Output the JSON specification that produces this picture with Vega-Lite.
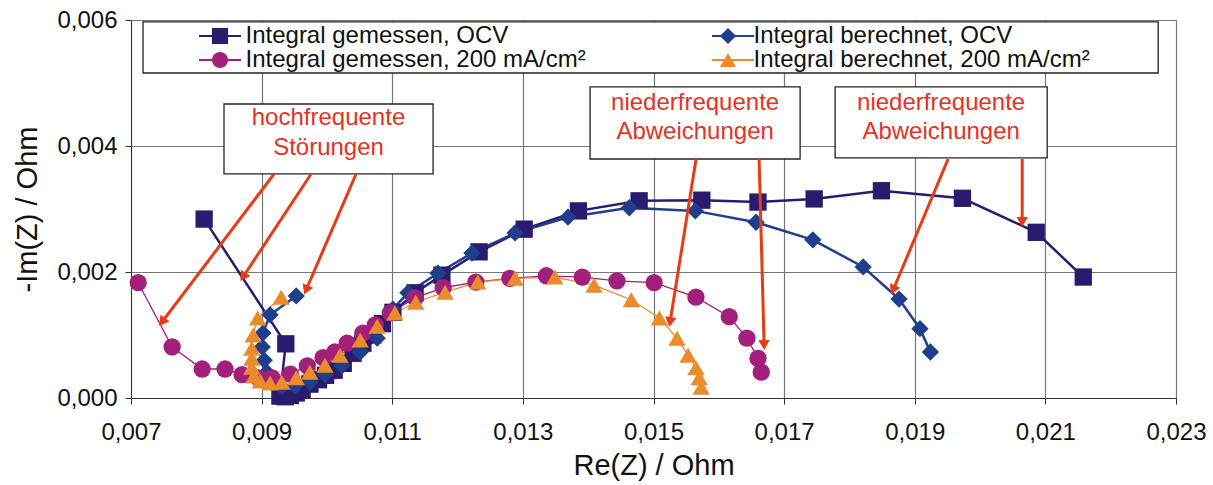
{
  "$schema": "https://vega.github.io/schema/vega-lite/v6.json",
  "width": 1045,
  "height": 378,
  "autosize": {"type": "none"},
  "padding": {"left": 131, "top": 20, "right": 37, "bottom": 87},
  "background": "white",
  "config": {
    "font": "Liberation Sans",
    "view": {"stroke": "#999", "strokeWidth": 1},
    "axis": {
      "labelFontSize": 24, "titleFontSize": 29, "titleFontWeight": "normal",
      "labelColor": "#111", "titleColor": "#111",
      "gridColor": "#777", "gridWidth": 1.2,
      "domainColor": "#333", "tickColor": "#333", "tickSize": 6
    }
  },
  "datasets": {
    "nyquist": [
      {"series": "Integral gemessen, OCV", "i": 1, "x": 0.00812, "y": 0.00284},
      {"series": "Integral gemessen, OCV", "i": 2, "x": 0.00937, "y": 0.00086},
      {"series": "Integral gemessen, OCV", "i": 3, "x": 0.00928, "y": 0.00003},
      {"series": "Integral gemessen, OCV", "i": 4, "x": 0.00936, "y": 0.00002},
      {"series": "Integral gemessen, OCV", "i": 5, "x": 0.00944, "y": 0.00004},
      {"series": "Integral gemessen, OCV", "i": 6, "x": 0.00953, "y": 0.00008},
      {"series": "Integral gemessen, OCV", "i": 7, "x": 0.00962, "y": 0.00013},
      {"series": "Integral gemessen, OCV", "i": 8, "x": 0.00974, "y": 0.00022},
      {"series": "Integral gemessen, OCV", "i": 9, "x": 0.00987, "y": 0.00029},
      {"series": "Integral gemessen, OCV", "i": 10, "x": 0.00998, "y": 0.00036},
      {"series": "Integral gemessen, OCV", "i": 11, "x": 0.01011, "y": 0.00044},
      {"series": "Integral gemessen, OCV", "i": 12, "x": 0.01025, "y": 0.00055},
      {"series": "Integral gemessen, OCV", "i": 13, "x": 0.0104, "y": 0.00071},
      {"series": "Integral gemessen, OCV", "i": 14, "x": 0.01055, "y": 0.00087},
      {"series": "Integral gemessen, OCV", "i": 15, "x": 0.0107, "y": 0.001},
      {"series": "Integral gemessen, OCV", "i": 16, "x": 0.01085, "y": 0.00118},
      {"series": "Integral gemessen, OCV", "i": 17, "x": 0.01101, "y": 0.00136},
      {"series": "Integral gemessen, OCV", "i": 18, "x": 0.01135, "y": 0.00167},
      {"series": "Integral gemessen, OCV", "i": 19, "x": 0.01176, "y": 0.00195},
      {"series": "Integral gemessen, OCV", "i": 20, "x": 0.01233, "y": 0.00232},
      {"series": "Integral gemessen, OCV", "i": 21, "x": 0.01302, "y": 0.00268},
      {"series": "Integral gemessen, OCV", "i": 22, "x": 0.01385, "y": 0.00297},
      {"series": "Integral gemessen, OCV", "i": 23, "x": 0.01478, "y": 0.00313},
      {"series": "Integral gemessen, OCV", "i": 24, "x": 0.01574, "y": 0.00314},
      {"series": "Integral gemessen, OCV", "i": 25, "x": 0.0166, "y": 0.00311},
      {"series": "Integral gemessen, OCV", "i": 26, "x": 0.01746, "y": 0.00316},
      {"series": "Integral gemessen, OCV", "i": 27, "x": 0.01849, "y": 0.00329},
      {"series": "Integral gemessen, OCV", "i": 28, "x": 0.01973, "y": 0.00317},
      {"series": "Integral gemessen, OCV", "i": 29, "x": 0.02086, "y": 0.00263},
      {"series": "Integral gemessen, OCV", "i": 30, "x": 0.02158, "y": 0.00192},

      {"series": "Integral berechnet, OCV", "i": 1, "x": 0.00953, "y": 0.00162},
      {"series": "Integral berechnet, OCV", "i": 2, "x": 0.00913, "y": 0.00132},
      {"series": "Integral berechnet, OCV", "i": 3, "x": 0.00902, "y": 0.00103},
      {"series": "Integral berechnet, OCV", "i": 4, "x": 0.00901, "y": 0.00081},
      {"series": "Integral berechnet, OCV", "i": 5, "x": 0.00904, "y": 0.0006},
      {"series": "Integral berechnet, OCV", "i": 6, "x": 0.00908, "y": 0.00041},
      {"series": "Integral berechnet, OCV", "i": 7, "x": 0.00916, "y": 0.00025},
      {"series": "Integral berechnet, OCV", "i": 8, "x": 0.00931, "y": 0.00018},
      {"series": "Integral berechnet, OCV", "i": 9, "x": 0.00951, "y": 0.00019},
      {"series": "Integral berechnet, OCV", "i": 10, "x": 0.00974, "y": 0.00025},
      {"series": "Integral berechnet, OCV", "i": 11, "x": 0.00997, "y": 0.00037},
      {"series": "Integral berechnet, OCV", "i": 12, "x": 0.01023, "y": 0.00051},
      {"series": "Integral berechnet, OCV", "i": 13, "x": 0.01051, "y": 0.00073},
      {"series": "Integral berechnet, OCV", "i": 14, "x": 0.01077, "y": 0.00095},
      {"series": "Integral berechnet, OCV", "i": 15, "x": 0.01101, "y": 0.00141},
      {"series": "Integral berechnet, OCV", "i": 16, "x": 0.01124, "y": 0.00167},
      {"series": "Integral berechnet, OCV", "i": 17, "x": 0.0117, "y": 0.00198},
      {"series": "Integral berechnet, OCV", "i": 18, "x": 0.01222, "y": 0.0023},
      {"series": "Integral berechnet, OCV", "i": 19, "x": 0.01288, "y": 0.00262},
      {"series": "Integral berechnet, OCV", "i": 20, "x": 0.01369, "y": 0.00287},
      {"series": "Integral berechnet, OCV", "i": 21, "x": 0.01463, "y": 0.00302},
      {"series": "Integral berechnet, OCV", "i": 22, "x": 0.01564, "y": 0.00297},
      {"series": "Integral berechnet, OCV", "i": 23, "x": 0.01657, "y": 0.00279},
      {"series": "Integral berechnet, OCV", "i": 24, "x": 0.01744, "y": 0.00251},
      {"series": "Integral berechnet, OCV", "i": 25, "x": 0.01821, "y": 0.00208},
      {"series": "Integral berechnet, OCV", "i": 26, "x": 0.01876, "y": 0.00157},
      {"series": "Integral berechnet, OCV", "i": 27, "x": 0.01908, "y": 0.0011},
      {"series": "Integral berechnet, OCV", "i": 28, "x": 0.01924, "y": 0.00073},

      {"series": "Integral gemessen, 200 mA/cm²", "i": 1, "x": 0.00711, "y": 0.00183},
      {"series": "Integral gemessen, 200 mA/cm²", "i": 2, "x": 0.00763, "y": 0.00081},
      {"series": "Integral gemessen, 200 mA/cm²", "i": 3, "x": 0.00809, "y": 0.00046},
      {"series": "Integral gemessen, 200 mA/cm²", "i": 4, "x": 0.00844, "y": 0.00046},
      {"series": "Integral gemessen, 200 mA/cm²", "i": 5, "x": 0.0087, "y": 0.00037},
      {"series": "Integral gemessen, 200 mA/cm²", "i": 6, "x": 0.00895, "y": 0.00032},
      {"series": "Integral gemessen, 200 mA/cm²", "i": 7, "x": 0.00916, "y": 0.00032},
      {"series": "Integral gemessen, 200 mA/cm²", "i": 8, "x": 0.00944, "y": 0.00038},
      {"series": "Integral gemessen, 200 mA/cm²", "i": 9, "x": 0.0097, "y": 0.00051},
      {"series": "Integral gemessen, 200 mA/cm²", "i": 10, "x": 0.00994, "y": 0.00064},
      {"series": "Integral gemessen, 200 mA/cm²", "i": 11, "x": 0.01012, "y": 0.00073},
      {"series": "Integral gemessen, 200 mA/cm²", "i": 12, "x": 0.01031, "y": 0.00087},
      {"series": "Integral gemessen, 200 mA/cm²", "i": 13, "x": 0.01055, "y": 0.00103},
      {"series": "Integral gemessen, 200 mA/cm²", "i": 14, "x": 0.01074, "y": 0.00116},
      {"series": "Integral gemessen, 200 mA/cm²", "i": 15, "x": 0.01097, "y": 0.00135},
      {"series": "Integral gemessen, 200 mA/cm²", "i": 16, "x": 0.01135, "y": 0.00159},
      {"series": "Integral gemessen, 200 mA/cm²", "i": 17, "x": 0.01178, "y": 0.00175},
      {"series": "Integral gemessen, 200 mA/cm²", "i": 18, "x": 0.01228, "y": 0.00184},
      {"series": "Integral gemessen, 200 mA/cm²", "i": 19, "x": 0.0128, "y": 0.0019},
      {"series": "Integral gemessen, 200 mA/cm²", "i": 20, "x": 0.01336, "y": 0.00194},
      {"series": "Integral gemessen, 200 mA/cm²", "i": 21, "x": 0.01391, "y": 0.00192},
      {"series": "Integral gemessen, 200 mA/cm²", "i": 22, "x": 0.01444, "y": 0.00186},
      {"series": "Integral gemessen, 200 mA/cm²", "i": 23, "x": 0.01501, "y": 0.00183},
      {"series": "Integral gemessen, 200 mA/cm²", "i": 24, "x": 0.01565, "y": 0.0016},
      {"series": "Integral gemessen, 200 mA/cm²", "i": 25, "x": 0.01616, "y": 0.00129},
      {"series": "Integral gemessen, 200 mA/cm²", "i": 26, "x": 0.01643, "y": 0.00095},
      {"series": "Integral gemessen, 200 mA/cm²", "i": 27, "x": 0.0166, "y": 0.00063},
      {"series": "Integral gemessen, 200 mA/cm²", "i": 28, "x": 0.01665, "y": 0.00041},

      {"series": "Integral berechnet, 200 mA/cm²", "i": 1, "x": 0.0093, "y": 0.0016},
      {"series": "Integral berechnet, 200 mA/cm²", "i": 2, "x": 0.00894, "y": 0.00127},
      {"series": "Integral berechnet, 200 mA/cm²", "i": 3, "x": 0.00887, "y": 0.001},
      {"series": "Integral berechnet, 200 mA/cm²", "i": 4, "x": 0.00885, "y": 0.00079},
      {"series": "Integral berechnet, 200 mA/cm²", "i": 5, "x": 0.00885, "y": 0.00063},
      {"series": "Integral berechnet, 200 mA/cm²", "i": 6, "x": 0.00885, "y": 0.00049},
      {"series": "Integral berechnet, 200 mA/cm²", "i": 7, "x": 0.00888, "y": 0.00035},
      {"series": "Integral berechnet, 200 mA/cm²", "i": 8, "x": 0.00898, "y": 0.00027},
      {"series": "Integral berechnet, 200 mA/cm²", "i": 9, "x": 0.00913, "y": 0.00024},
      {"series": "Integral berechnet, 200 mA/cm²", "i": 10, "x": 0.00931, "y": 0.00025},
      {"series": "Integral berechnet, 200 mA/cm²", "i": 11, "x": 0.00953, "y": 0.00032},
      {"series": "Integral berechnet, 200 mA/cm²", "i": 12, "x": 0.00974, "y": 0.00041},
      {"series": "Integral berechnet, 200 mA/cm²", "i": 13, "x": 0.00997, "y": 0.00052},
      {"series": "Integral berechnet, 200 mA/cm²", "i": 14, "x": 0.0102, "y": 0.00068},
      {"series": "Integral berechnet, 200 mA/cm²", "i": 15, "x": 0.01051, "y": 0.00092},
      {"series": "Integral berechnet, 200 mA/cm²", "i": 16, "x": 0.01077, "y": 0.00114},
      {"series": "Integral berechnet, 200 mA/cm²", "i": 17, "x": 0.01104, "y": 0.00135},
      {"series": "Integral berechnet, 200 mA/cm²", "i": 18, "x": 0.01136, "y": 0.00152},
      {"series": "Integral berechnet, 200 mA/cm²", "i": 19, "x": 0.01181, "y": 0.00168},
      {"series": "Integral berechnet, 200 mA/cm²", "i": 20, "x": 0.01231, "y": 0.00184},
      {"series": "Integral berechnet, 200 mA/cm²", "i": 21, "x": 0.01288, "y": 0.0019},
      {"series": "Integral berechnet, 200 mA/cm²", "i": 22, "x": 0.01349, "y": 0.00192},
      {"series": "Integral berechnet, 200 mA/cm²", "i": 23, "x": 0.01409, "y": 0.00179},
      {"series": "Integral berechnet, 200 mA/cm²", "i": 24, "x": 0.01466, "y": 0.00156},
      {"series": "Integral berechnet, 200 mA/cm²", "i": 25, "x": 0.01509, "y": 0.00127},
      {"series": "Integral berechnet, 200 mA/cm²", "i": 26, "x": 0.01536, "y": 0.00095},
      {"series": "Integral berechnet, 200 mA/cm²", "i": 27, "x": 0.01553, "y": 0.00068},
      {"series": "Integral berechnet, 200 mA/cm²", "i": 28, "x": 0.01565, "y": 0.00048},
      {"series": "Integral berechnet, 200 mA/cm²", "i": 29, "x": 0.0157, "y": 0.00032},
      {"series": "Integral berechnet, 200 mA/cm²", "i": 30, "x": 0.01573, "y": 0.00017}
    ],
    "boxes": [
      {"x": 0.007184, "x2": 0.022727, "y": 0.00597, "y2": 0.005159},
      {"x": 0.008424, "x2": 0.011625, "y": 0.004667, "y2": 0.003556},
      {"x": 0.014029, "x2": 0.017245, "y": 0.004937, "y2": 0.003794},
      {"x": 0.017781, "x2": 0.021028, "y": 0.004937, "y2": 0.00381}
    ],
    "notes": [
      {"x": 0.010024, "y": 0.004444, "text": "hochfrequente"},
      {"x": 0.010024, "y": 0.003968, "text": "Störungen"},
      {"x": 0.015637, "y": 0.004683, "text": "niederfrequente"},
      {"x": 0.015637, "y": 0.004222, "text": "Abweichungen"},
      {"x": 0.019404, "y": 0.004683, "text": "niederfrequente"},
      {"x": 0.019404, "y": 0.004222, "text": "Abweichungen"}
    ],
    "arrows": [
      {"id": 1, "x": 0.00919, "y": 0.003556, "x2": 0.007475, "y2": 0.001206},
      {"id": 2, "x": 0.009757, "y": 0.003556, "x2": 0.008715, "y2": 0.001921},
      {"id": 3, "x": 0.010446, "y": 0.003556, "x2": 0.00968, "y2": 0.001714},
      {"id": 4, "x": 0.015652, "y": 0.003794, "x2": 0.015254, "y2": 0.001206},
      {"id": 5, "x": 0.016617, "y": 0.003794, "x2": 0.016694, "y2": 0.000841},
      {"id": 6, "x": 0.019511, "y": 0.003794, "x2": 0.018669, "y2": 0.001714},
      {"id": 7, "x": 0.020645, "y": 0.003794, "x2": 0.020645, "y2": 0.002794}
    ]
  },
  "encoding": {
    "x": {
      "field": "x", "type": "quantitative",
      "scale": {"domain": [0.007, 0.023], "nice": false, "zero": false},
      "axis": {
        "values": [0.007, 0.009, 0.011, 0.013, 0.015, 0.017, 0.019, 0.021, 0.023],
        "labelExpr": "replace(format(datum.value, '.3f'), '.', ',')",
        "title": "Re(Z) / Ohm", "labelPadding": 16, "titlePadding": 7, "labelFlush": false
      }
    },
    "y": {
      "field": "y", "type": "quantitative",
      "scale": {"domain": [0, 0.006], "nice": false, "zero": false},
      "axis": {
        "values": [0, 0.002, 0.004, 0.006],
        "labelExpr": "replace(format(datum.value, '.3f'), '.', ',')",
        "title": "-Im(Z) / Ohm", "labelPadding": 8, "titlePadding": 14, "labelFlush": false
      }
    }
  },
  "layer": [
    {
      "data": {"name": "boxes"},
      "mark": {"type": "rect", "fill": "white", "stroke": "#222", "strokeWidth": 1.3},
      "encoding": {"x2": {"field": "x2"}, "y2": {"field": "y2"}}
    },
    {
      "data": {"name": "nyquist"},
      "transform": [{"filter": "indexof(datum.series, 'OCV') >= 0"}],
      "mark": {"type": "line", "strokeWidth": 2.5},
      "encoding": {
        "order": {"field": "i", "type": "quantitative"},
        "stroke": {
          "field": "series", "type": "nominal",
          "scale": {"domain": ["Integral gemessen, OCV", "Integral gemessen, 200 mA/cm²", "Integral berechnet, OCV", "Integral berechnet, 200 mA/cm²"], "range": ["#2A1B6F", "#A3207A", "#1F3E8C", "#EB8C2C"]},
          "legend": {
            "orient": "none", "legendX": 65.5, "legendY": 4, "columns": 2, "direction": "horizontal", "title": null,
            "values": ["Integral gemessen, OCV", "Integral berechnet, OCV", "Integral gemessen, 200 mA/cm²", "Integral berechnet, 200 mA/cm²"],
            "symbolType": "M-2.6,0H2.6", "symbolSize": 260, "symbolStrokeWidth": 2, "symbolOffset": 11.5,
            "labelFontSize": 24, "labelOffset": 13.5, "labelOpacity": 0, "labelLimit": 0, "labelExpr": "' '",
            "columnPadding": 462, "rowPadding": -4, "padding": 0
          }
        }
      }
    },
    {
      "data": {"name": "nyquist"},
      "transform": [{"filter": "indexof(datum.series, 'OCV') < 0"}],
      "mark": {"type": "line", "strokeWidth": 1.3},
      "encoding": {
        "order": {"field": "i", "type": "quantitative"},
        "stroke": {
          "field": "series", "type": "nominal",
          "scale": {"domain": ["Integral gemessen, OCV", "Integral gemessen, 200 mA/cm²", "Integral berechnet, OCV", "Integral berechnet, 200 mA/cm²"], "range": ["#2A1B6F", "#A3207A", "#1F3E8C", "#EB8C2C"]},
          "legend": {
            "orient": "none", "legendX": 65.5, "legendY": 4, "columns": 2, "direction": "horizontal", "title": null,
            "values": ["Integral gemessen, OCV", "Integral berechnet, OCV", "Integral gemessen, 200 mA/cm²", "Integral berechnet, 200 mA/cm²"],
            "symbolType": "M-2.6,0H2.6", "symbolSize": 260, "symbolStrokeWidth": 2, "symbolOffset": 11.5,
            "labelFontSize": 24, "labelOffset": 13.5, "labelOpacity": 0, "labelLimit": 0, "labelExpr": "' '",
            "columnPadding": 462, "rowPadding": -4, "padding": 0
          }
        }
      }
    },
    {
      "data": {"name": "nyquist"},
      "mark": {"type": "point", "filled": true, "opacity": 1, "size": 300},
      "encoding": {
        "fill": {
          "field": "series", "type": "nominal",
          "scale": {"domain": ["Integral gemessen, OCV", "Integral berechnet, OCV", "Integral gemessen, 200 mA/cm²", "Integral berechnet, 200 mA/cm²"], "range": ["#2A1B6F", "#1F3E8C", "#A3207A", "#EB8C2C"]},
          "legend": {
            "orient": "none", "legendX": 65.5, "legendY": 4, "columns": 2, "direction": "horizontal", "title": null,
            "symbolSize": 260, "symbolStrokeWidth": 0, "symbolOffset": 11.5,
            "labelFontSize": 24, "labelOffset": 13.5, "labelLimit": 0, "labelColor": "#111",
            "columnPadding": 118, "rowPadding": -4, "padding": 0
          }
        },
        "shape": {
          "field": "series", "type": "nominal",
          "scale": {"domain": ["Integral gemessen, OCV", "Integral berechnet, OCV", "Integral gemessen, 200 mA/cm²", "Integral berechnet, 200 mA/cm²"], "range": ["square", "diamond", "circle", "triangle-up"]}
        }
      }
    },
    {
      "data": {"name": "arrows"},
      "mark": {"type": "rule", "color": "#E63B14", "strokeWidth": 3},
      "encoding": {"x2": {"field": "x2"}, "y2": {"field": "y2"}}
    },
    {
      "data": {"name": "arrows"},
      "mark": {"type": "point", "shape": "triangle-up", "filled": true, "color": "#E63B14", "size": 130, "opacity": 1},
      "encoding": {
        "x": {"field": "x2", "type": "quantitative"},
        "y": {"field": "y2", "type": "quantitative"},
        "angle": {"field": "id", "type": "quantitative", "scale": {"domain": [1, 2, 3, 4, 5, 6, 7], "range": [217, 213, 203, 189, 178, 203, 180]}, "legend": null}
      }
    },
    {
      "data": {"name": "notes"},
      "mark": {"type": "text", "color": "#E53222", "fontSize": 24, "align": "center", "baseline": "middle"},
      "encoding": {"text": {"field": "text"}}
    }
  ]
}
